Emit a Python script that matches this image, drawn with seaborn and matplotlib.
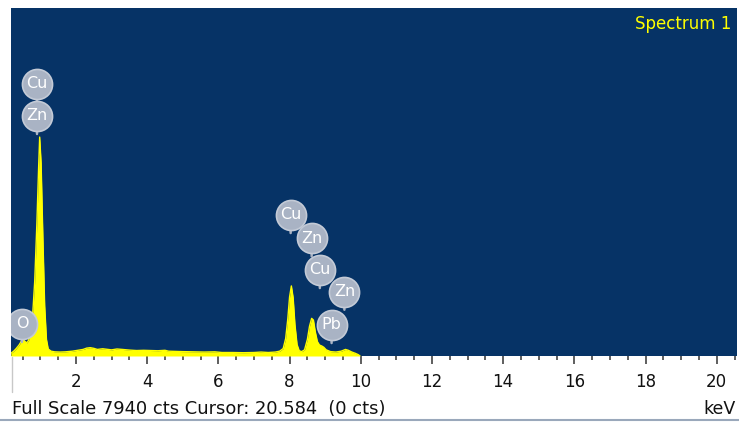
import matplotlib
matplotlib.use("Agg")
import matplotlib.pyplot as plt
import seaborn as sns
from matplotlib.lines import Line2D
from matplotlib.ticker import FixedLocator, NullFormatter

# spectrum (keV, counts)
energy = [0.17, 0.25, 0.32, 0.40, 0.46, 0.52, 0.57, 0.62, 0.67, 0.72, 0.78, 0.84, 0.90, 0.95,
          0.98, 1.02, 1.07, 1.12, 1.17, 1.22, 1.30, 1.40, 1.55, 1.70, 1.90, 2.05, 2.20, 2.30,
          2.40, 2.50, 2.60, 2.75, 2.90, 3.00, 3.15, 3.30, 3.50, 3.70, 3.90, 4.10, 4.30, 4.50,
          4.60, 4.80, 5.00, 5.30, 5.60, 5.90, 6.10, 6.40, 6.70, 7.00, 7.20, 7.40, 7.60, 7.72,
          7.82, 7.89, 7.95, 8.00, 8.05, 8.10, 8.15, 8.21, 8.27, 8.34, 8.42, 8.50, 8.56, 8.62,
          8.67, 8.72, 8.78, 8.84, 8.90, 8.96, 9.03, 9.15, 9.30, 9.45, 9.57, 9.65, 9.75, 9.85,
          9.93, 9.98]
counts = [60, 110, 170, 250, 330, 370, 330, 300, 360, 520, 900, 1700, 3000, 4300,
          5000, 4400, 2700, 1150, 380, 160, 110, 95, 90, 95, 110, 130, 150, 180,
          190, 175, 150, 165, 150, 140, 160, 150, 135, 125, 130, 125, 120, 130,
          110, 105, 100, 95, 90, 95, 80, 80, 75, 80, 90, 80, 90, 110,
          170, 400, 850, 1350, 1600, 1330, 720, 260, 120, 100, 140, 380, 680, 860,
          820, 560, 330, 250, 230, 200, 140, 100, 90, 110, 150, 130, 90, 60,
          30, 0]

# element markers (label, keV, counts at circle centre)
peak_labels = ["Cu", "Zn", "O", "Cu", "Zn", "Cu", "Zn", "Pb"]
label_kev = [0.905, 0.905, 0.48, 8.03, 8.62, 8.85, 9.54, 9.18]
label_cts = [6212, 5482, 731, 3220, 2688, 1964, 1469, 708]

tick_major = [2, 4, 6, 8, 10, 12, 14, 16, 18, 20]
tick_minor = [x / 2 for x in range(1, 42) if x % 4 != 0]

full_scale = 7940

sns.set_style("white")
plt.rcParams["font.family"] = ["DejaVu Sans"]

fig = plt.figure(figsize=(7.39, 4.22), dpi=100)
ax = fig.add_axes([10.7 / 739, 66 / 422, 726 / 739, 347.7 / 422])
ax.set_facecolor("#063366")

sns.lineplot(x=energy, y=counts, ax=ax, color="#ffff00", linewidth=1)
ax.fill_between(energy, counts, 0, color="#ffff00", linewidth=0)

ax.set_xlim(0.166, 20.56)
ax.set_ylim(0, full_scale)
for s in ax.spines.values():
    s.set_visible(False)

ax.xaxis.set_major_locator(FixedLocator(tick_major))
ax.xaxis.set_minor_locator(FixedLocator(tick_minor))
ax.xaxis.set_minor_formatter(NullFormatter())
ax.set_xticklabels([str(t) for t in tick_major])
ax.tick_params(axis="x", which="major", bottom=True, length=5.5, width=1.1, color="#333333",
               direction="out", pad=6.5, labelsize=12, labelcolor="#111111")
ax.tick_params(axis="x", which="minor", bottom=True, length=3.1, width=1.1, color="#333333",
               direction="out")
ax.set_yticks([])
ax.set_xlabel("")
ax.set_ylabel("")

# labelled circles with their stems
for lab, x, y in zip(peak_labels, label_kev, label_cts):
    ax.annotate("", xy=(x, y), xytext=(0, -15), textcoords="offset points",
                arrowprops=dict(arrowstyle="-", color="#aab3c3", lw=1.8), zorder=4)
    ax.scatter([x], [y], s=470, color="#a9b3c4", edgecolors="#c3cad6", linewidths=1.2,
               zorder=5)
    ax.text(x, y, lab, color="white", fontsize=11.5, ha="center", va="center", zorder=6)

ax.text(0.9925, 0.955, "Spectrum 1", transform=ax.transAxes, color="#ffff00",
        fontsize=12, ha="right", va="center")

fig.text(12 / 739, 1 - 409 / 422, "Full Scale 7940 cts Cursor: 20.584  (0 cts)",
         fontsize=12.9, ha="left", va="center", color="#111111")
fig.text(736 / 739, 1 - 409 / 422, "keV", fontsize=12.5, ha="right", va="center",
         color="#111111")

fig.add_artist(Line2D([12.3 / 739, 12.3 / 739], [1 - 357 / 422, 1 - 392 / 422],
                      color="#c8c8c8", lw=1))
fig.add_artist(Line2D([0, 1], [1 - 420 / 422, 1 - 420 / 422], color="#9aa8bb", lw=1.5))

fig.savefig("out.png", dpi=100)
